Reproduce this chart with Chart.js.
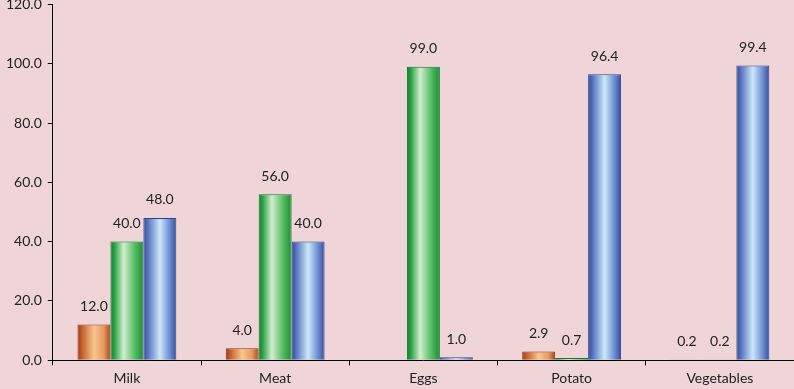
<!DOCTYPE html>
<html>
<head>
<meta charset="utf-8">
<script src="https://cdn.jsdelivr.net/npm/chart.js@4"></script>
<style>
  body { margin: 0; background: #f0d5d8; overflow: hidden; }
  #wrap { position: relative; width: 794px; height: 402px; top: -10px; }
</style>
</head>
<body>
<div id="wrap"><canvas id="foodChart"></canvas></div>
<script>
const categories = ['Milk', 'Meat', 'Eggs', 'Potato', 'Vegetables'];
const seriesOrange = [12.0, 4.0, null, 2.9, 0.2];
const seriesGreen = [40.0, 56.0, 99.0, 0.7, 0.2];
const seriesBlue = [48.0, 40.0, 1.0, 96.4, 99.4];

const CAT_PCT = 0.667;
const FONT = 'Lato, "Open Sans", sans-serif';

// horizontal gradient across each bar, like the office-style cylinder fill
const barGradient = (stops, solid) => context => {
  const chart = context.chart;
  if (!chart.chartArea || context.dataIndex === undefined) return solid;
  const xs = chart.scales.x;
  const cw = xs.width / categories.length;
  const bw = cw * CAT_PCT / 3;
  const left = xs.getPixelForValue(context.dataIndex) - cw * CAT_PCT / 2 + context.datasetIndex * bw;
  const g = chart.ctx.createLinearGradient(left, 0, left + bw, 0);
  stops.forEach(s => g.addColorStop(s[0], s[1]));
  return g;
};

const valueLabels = {
  id: 'valueLabels',
  afterDatasetDraw(chart, args) {
    const ctx = chart.ctx;
    const meta = args.meta;
    const data = chart.data.datasets[args.index].data;
    ctx.save();
    ctx.font = '14px ' + FONT;
    ctx.fillStyle = '#222';
    ctx.textAlign = 'center';
    ctx.textBaseline = 'middle';
    meta.data.forEach((bar, i) => {
      if (data[i] === null) return;
      ctx.fillText(data[i].toFixed(1), bar.x, bar.y - 18);
    });
    ctx.restore();
  }
};

new Chart(document.getElementById('foodChart'), {
  type: 'bar',
  data: {
    labels: categories,
    datasets: [{
      data: seriesOrange,
      backgroundColor: barGradient([[0, '#9a3616'], [0.15, '#c8642e'], [0.5, '#f8c68e'], [0.8, '#e89a5c'], [1, '#a8421a']], '#e08850'),
      borderColor: '#8e3214',
      borderWidth: 1
    }, {
      data: seriesGreen,
      backgroundColor: barGradient([[0, '#10802c'], [0.12, '#2aa044'], [0.4, '#d3eed0'], [0.72, '#5cbf66'], [1, '#178e34']], '#4cb05a'),
      borderColor: '#0f7a2a',
      borderWidth: 1
    }, {
      data: seriesBlue,
      backgroundColor: barGradient([[0, '#32469a'], [0.15, '#5a78c0'], [0.5, '#cbe8fa'], [0.8, '#6c8ed0'], [1, '#384ea0']], '#6a86c8'),
      borderColor: '#2e4294',
      borderWidth: 1
    }]
  },
  options: {
    responsive: true,
    maintainAspectRatio: false,
    animation: false,
    categoryPercentage: CAT_PCT,
    barPercentage: 1,
    layout: { padding: 0 },
    plugins: {
      legend: { display: false },
      tooltip: { enabled: false }
    },
    scales: {
      x: {
        grid: { drawOnChartArea: false, drawTicks: true, tickLength: 5, color: '#000' },
        border: { color: '#000', width: 1 },
        ticks: { color: '#222', font: { family: FONT, size: 14 }, padding: 5 }
      },
      y: {
        min: 0,
        max: 120,
        grid: { drawOnChartArea: false, drawTicks: true, tickLength: 5, color: '#000' },
        border: { color: '#000', width: 1 },
        ticks: {
          stepSize: 20,
          color: '#222',
          font: { family: FONT, size: 14 },
          padding: 6,
          callback: v => v.toFixed(1)
        }
      }
    }
  },
  plugins: [valueLabels]
});
</script>
</body>
</html>
